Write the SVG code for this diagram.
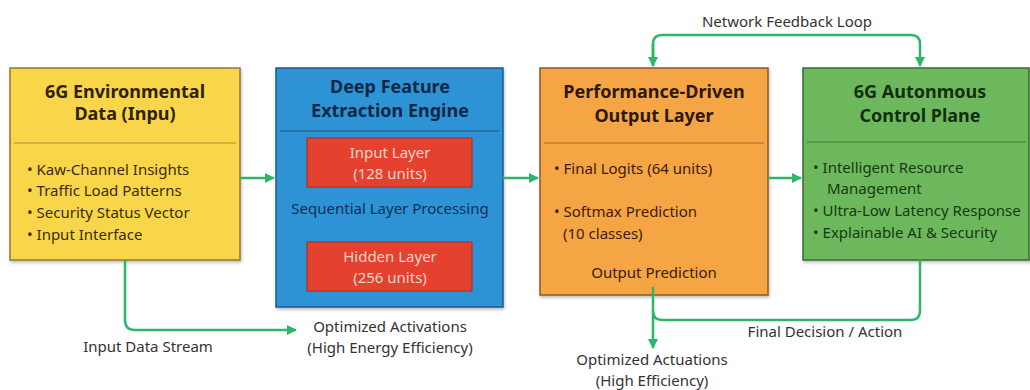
<svg xmlns="http://www.w3.org/2000/svg" width="1030" height="390" viewBox="0 0 1030 390">
<defs>
<marker id="ah" viewBox="0 0 10 10" refX="9" refY="5" markerWidth="10" markerHeight="10" markerUnits="userSpaceOnUse" orient="auto">
<path d="M0,0 L10,5 L0,10 z" fill="#2fb56a"/>
</marker>
<filter id="sh" x="-5%" y="-5%" width="110%" height="115%">
<feDropShadow dx="1" dy="2" stdDeviation="1.5" flood-color="#000" flood-opacity="0.25"/>
</filter>
</defs>
<style>
text{font-family:"Noto Sans","Open Sans","DejaVu Sans",sans-serif;}
.t{font-size:18px;font-weight:bold;text-anchor:middle;}
.b{font-size:15px;}
.c{text-anchor:middle;}
.lbl{font-size:15px;fill:#333;text-anchor:middle;}
.con{fill:none;stroke:#2fb56a;stroke-width:2.5;}
</style>
<rect width="1030" height="390" fill="#fff"/>
<g id="node-input">
<rect x="10" y="68" width="230" height="192" fill="#f9d54a" stroke="#8c7a35" stroke-width="1.5" filter="url(#sh)"/>
<line x1="14" y1="143" x2="236" y2="143" stroke="#a58c30" stroke-width="1.2"/>
<text class="t" x="125" y="98" fill="#2e2200">6G Environmental</text>
<text class="t" x="125" y="120" fill="#2e2200">Data (Inpu)</text>
<text class="b" fill="#3a2d05"><tspan x="27" y="175">• Kaw-Channel Insights</tspan><tspan x="27" y="196">• Traffic Load Patterns</tspan><tspan x="27" y="218">• Security Status Vector</tspan><tspan x="27" y="240">• Input Interface</tspan></text>
</g>
<g id="node-extract">
<rect x="276" y="68" width="227" height="239" fill="#2f93d5" stroke="#1d5b8a" stroke-width="1.5" filter="url(#sh)"/>
<line x1="280" y1="131" x2="499" y2="131" stroke="#1d4f7a" stroke-width="1.2"/>
<text class="t" x="390" y="93" fill="#0c2846">Deep Feature</text>
<text class="t" x="390" y="117" fill="#0c2846">Extraction Engine</text>
<rect x="307" y="138" width="165" height="49" fill="#e5412f" stroke="#a8281c" stroke-width="1"/>
<text class="b c" x="390" y="158" fill="#fad3c8">Input Layer</text>
<text class="b c" x="390" y="179" fill="#fad3c8">(128 units)</text>
<text class="b c" x="390" y="214" fill="#0f2f55">Sequential Layer Processing</text>
<rect x="307" y="242" width="165" height="49" fill="#e5412f" stroke="#a8281c" stroke-width="1"/>
<text class="b c" x="390" y="262" fill="#fad3c8">Hidden Layer</text>
<text class="b c" x="390" y="283" fill="#fad3c8">(256 units)</text>
</g>
<g id="node-output">
<rect x="540" y="68" width="228" height="227" fill="#f6a545" stroke="#8a5a25" stroke-width="1.5" filter="url(#sh)"/>
<line x1="544" y1="143" x2="764" y2="143" stroke="#a06a2a" stroke-width="1.2"/>
<text class="t" x="654" y="98" fill="#2e1800">Performance-Driven</text>
<text class="t" x="654" y="122" fill="#2e1800">Output Layer</text>
<text class="b" fill="#3a2005"><tspan x="554" y="174">• Final Logits (64 units)</tspan><tspan x="554" y="217">• Softmax Prediction</tspan><tspan x="563" y="239">(10 classes)</tspan></text>
<text class="b c" x="654" y="278" fill="#3a2005">Output Prediction</text>
</g>
<g id="node-control">
<rect x="803" y="68" width="226" height="192" fill="#6db85b" stroke="#3a6a30" stroke-width="1.5" filter="url(#sh)"/>
<line x1="807" y1="142" x2="1026" y2="142" stroke="#3f7a35" stroke-width="1.2"/>
<text class="t" x="920" y="98" fill="#10300c">6G Autonmous</text>
<text class="t" x="920" y="122" fill="#10300c">Control Plane</text>
<text class="b" fill="#163a10"><tspan x="813" y="173">• Intelligent Resource</tspan><tspan x="827" y="194">Management</tspan><tspan x="813" y="216">• Ultra-Low Latency Response</tspan><tspan x="813" y="238">• Explainable AI &amp; Security</tspan></text>
</g>
<g id="connectors">
<line class="con" x1="240" y1="178" x2="274" y2="178" marker-end="url(#ah)"/>
<line class="con" x1="503" y1="178" x2="538" y2="178" marker-end="url(#ah)"/>
<line class="con" x1="768" y1="178" x2="801" y2="178" marker-end="url(#ah)"/>
<path class="con" d="M653,66 V44 Q653,35 662,35 H911 Q920,35 920,44 V66" marker-end="url(#ah)"/>
<line class="con" x1="653" y1="44" x2="653" y2="66" marker-end="url(#ah)"/>
<path class="con" d="M125,260 V320 Q125,330 135,330 H296" marker-end="url(#ah)"/>
<path class="con" d="M920,260 V311 Q920,320 911,320 H662 Q653,320 653,311"/>
<path class="con" d="M653,287 V348" marker-end="url(#ah)"/>
<text class="lbl" x="787" y="27">Network Feedback Loop</text>
<text class="lbl" x="148" y="352">Input Data Stream</text>
<text class="lbl" x="390" y="332">Optimized Activations</text>
<text class="lbl" x="390" y="353">(High Energy Efficiency)</text>
<text class="lbl" x="825" y="337">Final Decision / Action</text>
<text class="lbl" x="652" y="365">Optimized Actuations</text>
<text class="lbl" x="652" y="386">(High Efficiency)</text>
</g>
</svg>
